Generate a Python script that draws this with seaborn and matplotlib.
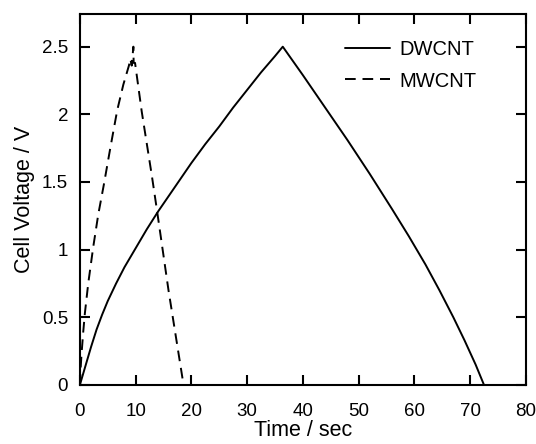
import numpy as np
import pandas as pd
import seaborn as sns
import matplotlib.pyplot as plt
from matplotlib.ticker import MultipleLocator, FormatStrFormatter

# DWCNT charge / discharge curve (time in s, voltage in V)
dw_time = [0, 0.5, 1, 2, 3, 4, 5, 6.5, 8, 10, 12, 14, 16, 18, 20, 22.5,
           25, 27.5, 30, 32.5, 35, 36.4,
           40, 44, 48, 52, 56, 59, 62, 64.5, 67, 69, 71, 72.5]
dw_volt = [0, 0.07, 0.14, 0.28, 0.41, 0.52, 0.62, 0.75, 0.87, 1.01, 1.15, 1.28,
           1.40, 1.52, 1.64, 1.78, 1.91, 2.05, 2.18, 2.31, 2.43, 2.5,
           2.29, 2.05, 1.81, 1.56, 1.30, 1.10, 0.89, 0.70, 0.50, 0.33, 0.15, 0.0]

# MWCNT charge / discharge curve
mw_time = [0, 0.15, 0.3, 0.6, 0.9, 1.5, 2.4, 3.3, 4.3, 5.5, 6.7, 7.8, 8.8,
           9.05, 9.3, 9.6, 9.65, 9.9,
           11.1, 12.9, 13.8, 15.9, 18.6]
mw_volt = [0, 0.13, 0.23, 0.39, 0.53, 0.75, 1.02, 1.26, 1.48, 1.76, 2.03, 2.22, 2.36,
           2.41, 2.36, 2.5, 2.38, 2.38,
           2.02, 1.55, 1.30, 0.70, 0.0]

df = pd.concat([
    pd.DataFrame({"t": dw_time, "V": dw_volt, "sample": "DWCNT"}),
    pd.DataFrame({"t": mw_time, "V": mw_volt, "sample": "MWCNT"}),
], ignore_index=True)

sns.set_style("ticks")
plt.rcParams['font.family'] = ['Liberation Sans', 'DejaVu Sans']
plt.rcParams['text.color'] = 'black'
plt.rcParams['xtick.color'] = 'black'
plt.rcParams['ytick.color'] = 'black'
plt.rcParams['axes.labelcolor'] = 'black'
plt.rcParams['axes.edgecolor'] = 'black'

fig = plt.figure(figsize=(5.36, 4.44), dpi=100)
ax = fig.add_axes([0.149, 0.133, 0.832, 0.835])

sns.lineplot(data=df, x="t", y="V", style="sample",
             dashes={"DWCNT": "", "MWCNT": (5.5, 3.5)},
             color="black", linewidth=1.4, sort=False, estimator=None, ax=ax)

ax.set_xlim(0, 80)
ax.set_ylim(0, 2.74)
ax.xaxis.set_major_locator(MultipleLocator(10))
ax.yaxis.set_major_locator(MultipleLocator(0.5))
ax.yaxis.set_major_formatter(FormatStrFormatter('%g'))
ax.tick_params(direction="in", length=7, width=1.5, top=True, right=True,
               labelsize=13.5)
ax.tick_params(axis="x", pad=13)
ax.tick_params(axis="y", pad=8.5)
for s in ax.spines.values():
    s.set_linewidth(1.5)
    s.set_visible(True)

ax.set_xlabel("Time / sec", fontsize=15.5, labelpad=0)
ax.set_ylabel("Cell Voltage / V", fontsize=15.5, labelpad=5)

ax.legend(frameon=False, loc="upper right", bbox_to_anchor=(0.908, 0.952),
          fontsize=14.5, handlelength=2.2, handletextpad=0.5,
          borderaxespad=0, labelspacing=0.62, title=None)

fig.savefig("out.png", dpi=100)
